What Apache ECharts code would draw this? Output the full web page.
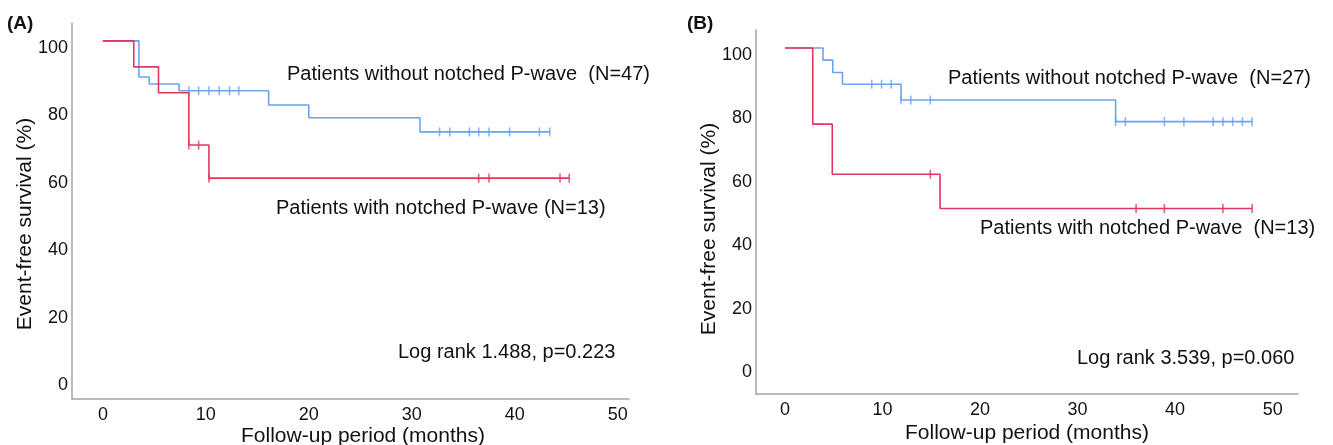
<!DOCTYPE html>
<html>
<head>
<meta charset="utf-8">
<script src="https://cdn.jsdelivr.net/npm/echarts@6/dist/echarts.min.js"></script>
<style>html,body{margin:0;background:#fff}#km{width:1333px;height:445px}</style>
</head>
<body>
<div id="km"></div>
<script>
// ticks
var xTicks = [0, 10, 20, 30, 40, 50];
var yTicks = [0, 20, 40, 60, 80, 100];

// (A) without notched P-wave (N=47)
var aNoT = [0, 3.5, 4.5, 7.4, 16.1, 20.0, 30.8];
var aNoS = [100, 89.3, 87.2, 85.2, 81.0, 77.2, 73.0];
var aNoCens = [8.35, 9.3, 10.3, 11.3, 12.3, 13.2, 32.7, 33.7, 35.6, 36.5, 37.5, 39.5, 42.4, 43.4];
// (A) with notched P-wave (N=13)
var aYesT = [0, 3.0, 5.4, 8.35, 10.3];
var aYesS = [100, 92.3, 84.6, 69.1, 59.3];
var aYesCens = [8.35, 9.3, 10.3, 36.5, 37.5, 44.4, 45.3];

// (B) without notched P-wave (N=27)
var bNoT = [0, 3.9, 4.9, 5.9, 11.9, 33.9];
var bNoS = [100, 96.2, 92.3, 88.6, 83.6, 76.8];
var bNoCens = [8.9, 9.9, 10.9, 11.9, 12.9, 14.9, 33.9, 34.9, 38.9, 40.9, 43.9, 44.9, 45.9, 46.9, 47.9];
// (B) with notched P-wave (N=13)
var bYesT = [0, 2.85, 4.85, 15.9];
var bYesS = [100, 76.0, 60.2, 49.4];
var bYesCens = [14.9, 36.0, 38.9, 44.9, 47.9];

var BLUE = '#6aa4ee';
var RED = '#e2365f';
var FONT = '"Liberation Sans", Arial, sans-serif';

function survAt(times, surv, t) {
  var s = surv[0];
  for (var i = 0; i < times.length; i++) {
    if (times[i] <= t) s = surv[i];
  }
  return s;
}
function stepData(times, surv, cens) {
  var d = times.map(function (t, i) { return [t, surv[i]]; });
  d.push([Math.max.apply(null, cens), surv[surv.length - 1]]);
  return d;
}
function censData(times, surv, cens) {
  return cens.map(function (t) { return [t, survAt(times, surv, t)]; });
}

function xAxisOf(idx, min, max) {
  return {
    gridIndex: idx, type: 'value', min: min, max: max,
    axisLine: { show: true, onZero: false, lineStyle: { color: '#a6a6a6', width: 1.5 } },
    axisTick: { show: false },
    splitLine: { show: false },
    axisLabel: { customValues: xTicks, color: '#111', fontSize: 18, fontFamily: FONT, margin: 7 }
  };
}
function yAxisOf(idx, min, max) {
  return {
    gridIndex: idx, type: 'value', min: min, max: max,
    axisLine: { show: true, onZero: false, lineStyle: { color: '#a6a6a6', width: 1.5 } },
    axisTick: { show: false },
    splitLine: { show: false },
    axisLabel: { customValues: yTicks, color: '#111', fontSize: 18, fontFamily: FONT, margin: 4, verticalAlign: 'top', lineHeight: 14 }
  };
}
function curve(idx, times, surv, cens, color) {
  return [
    {
      type: 'line', xAxisIndex: idx, yAxisIndex: idx, step: 'end',
      showSymbol: false, silent: true,
      lineStyle: { color: color, width: 1.6 },
      data: stepData(times, surv, cens)
    },
    {
      type: 'scatter', xAxisIndex: idx, yAxisIndex: idx, silent: true,
      symbol: 'rect', symbolSize: [1.6, 9],
      itemStyle: { color: color },
      data: censData(times, surv, cens)
    }
  ];
}
function txt(x, y, s, extra) {
  var st = { text: s, x: x, y: y, font: '20px ' + FONT, fill: '#111', textVerticalAlign: 'middle', textAlign: 'left' };
  for (var k in extra) st[k] = extra[k];
  return { type: 'text', style: st, z: 10 };
}

var chart = echarts.init(document.getElementById('km'));
chart.setOption({
  backgroundColor: '#fff',
  animation: false,
  grid: [
    { left: 72, top: 23, width: 557, height: 376 },
    { left: 756, top: 30, width: 542, height: 364 }
  ],
  xAxis: [xAxisOf(0, -3.0, 51.1), xAxisOf(1, -2.97, 52.6)],
  yAxis: [yAxisOf(0, -6.2, 105.3), yAxisOf(1, -9.1, 105.7)],
  series: []
    .concat(curve(0, aNoT, aNoS, aNoCens, BLUE))
    .concat(curve(0, aYesT, aYesS, aYesCens, RED))
    .concat(curve(1, bNoT, bNoS, bNoCens, BLUE))
    .concat(curve(1, bYesT, bYesS, bYesCens, RED)),
  graphic: [
    txt(7, 24, '(A)', { font: 'bold 19px ' + FONT }),
    txt(687, 24, '(B)', { font: 'bold 19px ' + FONT }),
    txt(363, 436, 'Follow-up period (months)', { font: '21px ' + FONT, textAlign: 'center' }),
    txt(1027, 433, 'Follow-up period (months)', { font: '21px ' + FONT, textAlign: 'center' }),
    { type: 'text', x: 25, y: 224, rotation: Math.PI / 2, z: 10,
      style: { text: 'Event-free survival (%)', font: '21px ' + FONT, fill: '#111', textAlign: 'center', textVerticalAlign: 'middle' } },
    { type: 'text', x: 709, y: 229, rotation: Math.PI / 2, z: 10,
      style: { text: 'Event-free survival (%)', font: '21px ' + FONT, fill: '#111', textAlign: 'center', textVerticalAlign: 'middle' } },
    txt(287, 74, 'Patients without notched P-wave  (N=47)'),
    txt(276, 208, 'Patients with notched P-wave (N=13)'),
    txt(398, 352, 'Log rank 1.488, p=0.223'),
    txt(948, 78, 'Patients without notched P-wave  (N=27)'),
    txt(980, 228, 'Patients with notched P-wave  (N=13)'),
    txt(1077, 358, 'Log rank 3.539, p=0.060')
  ]
});
</script>
</body>
</html>
